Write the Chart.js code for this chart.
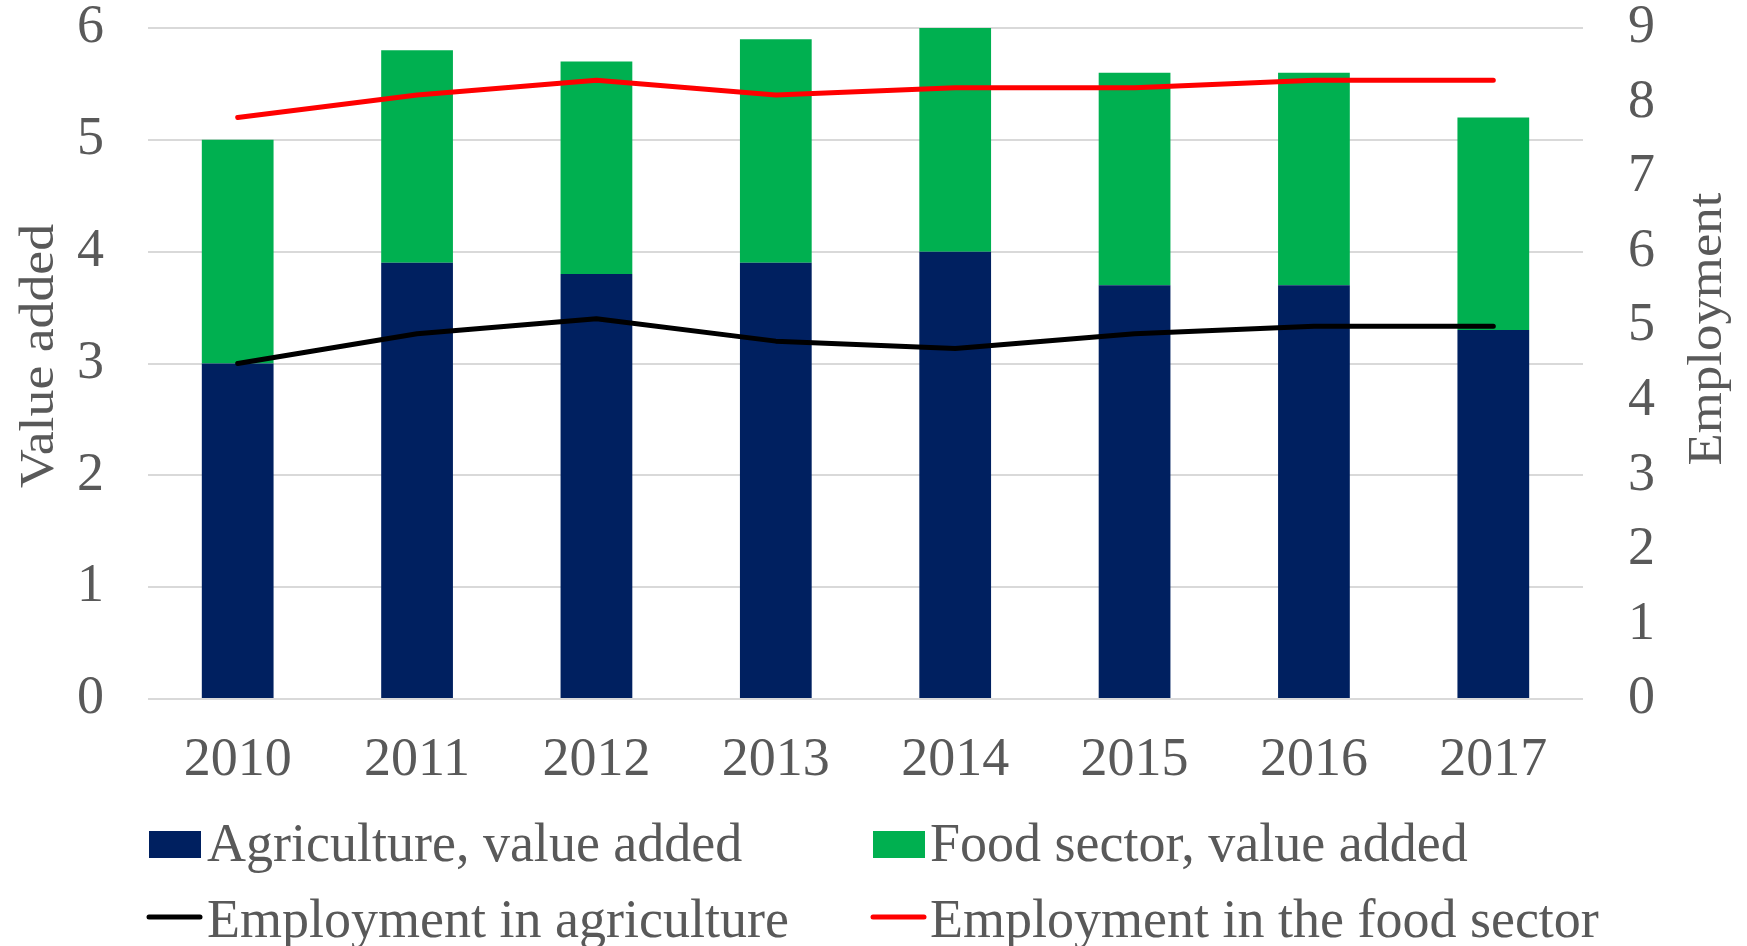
<!DOCTYPE html>
<html>
<head>
<meta charset="utf-8">
<script src="https://cdn.jsdelivr.net/npm/chart.js@4/dist/chart.umd.min.js"></script>
<style>
  html, body { margin: 0; padding: 0; background: #ffffff; }
  canvas { display: block; }
</style>
</head>
<body>
<canvas id="chart" width="1747" height="946"></canvas>
<script>
// ---- Data ----
const years = ['2010', '2011', '2012', '2013', '2014', '2015', '2016', '2017'];
const agricultureValueAdded = [3.0, 3.9, 3.8, 3.9, 4.0, 3.7, 3.7, 3.3];
const foodSectorValueAdded = [2.0, 1.9, 1.9, 2.0, 2.0, 1.9, 1.9, 1.9];
const employmentAgriculture = [4.5, 4.9, 5.1, 4.8, 4.7, 4.9, 5.0, 5.0];
const employmentFoodSector = [7.8, 8.1, 8.3, 8.1, 8.2, 8.2, 8.3, 8.3];
const seriesLabels = [
  'Agriculture, value added',
  'Food sector, value added',
  'Employment in agriculture',
  'Employment in the food sector'
];
const axisTitles = ['Value added', 'Employment'];

// ---- Styles ----
const FONT = "'Liberation Serif', 'Times New Roman', serif";
const TEXT = '#595959';
const NAVY = '#002060';
const GREEN = '#00B050';
const RED = '#FF0000';
const BLACK = '#000000';

const decorPlugin = {
  id: 'decor',
  afterDraw(chart, args, opts) {
    const ctx = chart.ctx;
    ctx.save();
    ctx.fillStyle = opts.color;
    // axis titles (rotated)
    opts.titles.forEach(t => {
      ctx.save();
      ctx.translate(t.x, t.y);
      ctx.rotate(-Math.PI / 2);
      ctx.scale(t.stretch, 1);
      ctx.font = t.font;
      ctx.textAlign = 'center';
      ctx.textBaseline = 'alphabetic';
      ctx.fillStyle = opts.color;
      ctx.fillText(t.text, 0, 0);
      ctx.restore();
    });
    // legend
    chart.data.datasets.forEach((ds, i) => {
      const p = opts.legend[i];
      if (!p) return;
      if (ds.type === 'line') {
        ctx.save();
        ctx.strokeStyle = ds.borderColor;
        ctx.lineWidth = 5;
        ctx.lineCap = 'round';
        ctx.beginPath();
        ctx.moveTo(p.x + 2, p.ly);
        ctx.lineTo(p.x + p.w - 2, p.ly);
        ctx.stroke();
        ctx.restore();
      } else {
        ctx.fillStyle = ds.backgroundColor;
        ctx.fillRect(p.x, p.by, p.w, p.h);
      }
      ctx.fillStyle = opts.color;
      ctx.font = opts.legendFont;
      ctx.textAlign = 'left';
      ctx.textBaseline = 'alphabetic';
      ctx.fillText(ds.label, p.tx, p.ty);
    });
    ctx.restore();
  }
};

const ctx = document.getElementById('chart').getContext('2d');
new Chart(ctx, {
  data: {
    labels: years,
    datasets: [
      {
        type: 'bar',
        label: seriesLabels[0],
        data: agricultureValueAdded,
        backgroundColor: NAVY,
        stack: 'va',
        yAxisID: 'y',
        order: 2,
        barPercentage: 0.5,
        categoryPercentage: 0.8
      },
      {
        type: 'bar',
        label: seriesLabels[1],
        data: foodSectorValueAdded,
        backgroundColor: GREEN,
        stack: 'va',
        yAxisID: 'y',
        order: 2,
        barPercentage: 0.5,
        categoryPercentage: 0.8
      },
      {
        type: 'line',
        label: seriesLabels[2],
        data: employmentAgriculture,
        borderColor: BLACK,
        backgroundColor: BLACK,
        borderWidth: 5,
        pointRadius: 0,
        tension: 0,
        borderCapStyle: 'round',
        borderJoinStyle: 'round',
        fill: false,
        yAxisID: 'y2',
        order: 0
      },
      {
        type: 'line',
        label: seriesLabels[3],
        data: employmentFoodSector,
        borderColor: RED,
        backgroundColor: RED,
        borderWidth: 5,
        pointRadius: 0,
        tension: 0,
        borderCapStyle: 'round',
        borderJoinStyle: 'round',
        fill: false,
        yAxisID: 'y2',
        order: 0
      }
    ]
  },
  options: {
    responsive: false,
    animation: false,
    devicePixelRatio: 1,
    layout: { padding: { top: 28, bottom: 147, left: 0, right: 0 } },
    plugins: {
      legend: { display: false },
      tooltip: { enabled: false },
      decor: {
        color: TEXT,
        legendFont: "54px " + FONT,
        titles: [
          { text: axisTitles[0], x: 53, y: 356, stretch: 1.12, font: "48px " + FONT },
          { text: axisTitles[1], x: 1721, y: 329, stretch: 1.1, font: "48px " + FONT }
        ],
        legend: [
          { x: 149, by: 831, w: 52, h: 27, tx: 207, ty: 861 },
          { x: 873, by: 831, w: 52, h: 27, tx: 930, ty: 861 },
          { x: 147, ly: 917, w: 55, tx: 207, ty: 937 },
          { x: 871, ly: 917, w: 55, tx: 930, ty: 937 }
        ]
      }
    },
    scales: {
      x: {
        grid: { display: false, drawTicks: false },
        border: { display: false },
        ticks: {
          color: TEXT,
          font: { family: FONT, size: 54, lineHeight: 1 },
          padding: 35,
          maxRotation: 0,
          autoSkip: false
        },
        afterFit(scale) { scale.height = 100; }
      },
      y: {
        position: 'left',
        stacked: true,
        min: 0,
        max: 6,
        grid: { color: '#D9D9D9', lineWidth: 2, drawTicks: true, tickLength: 44, tickColor: 'rgba(0,0,0,0)' },
        border: { display: false },
        ticks: {
          stepSize: 1,
          color: TEXT,
          font: { family: FONT, size: 54, lineHeight: 1 },
          padding: 0
        },
        afterFit(scale) { scale.width = 148; }
      },
      y2: {
        position: 'right',
        stacked: false,
        min: 0,
        max: 9,
        grid: { display: false, drawTicks: true, tickLength: 45, tickColor: 'rgba(0,0,0,0)' },
        border: { display: false },
        ticks: {
          stepSize: 1,
          color: TEXT,
          font: { family: FONT, size: 54, lineHeight: 1 },
          padding: 0
        },
        afterFit(scale) { scale.width = 164; }
      }
    }
  },
  plugins: [decorPlugin]
});
</script>
</body>
</html>
